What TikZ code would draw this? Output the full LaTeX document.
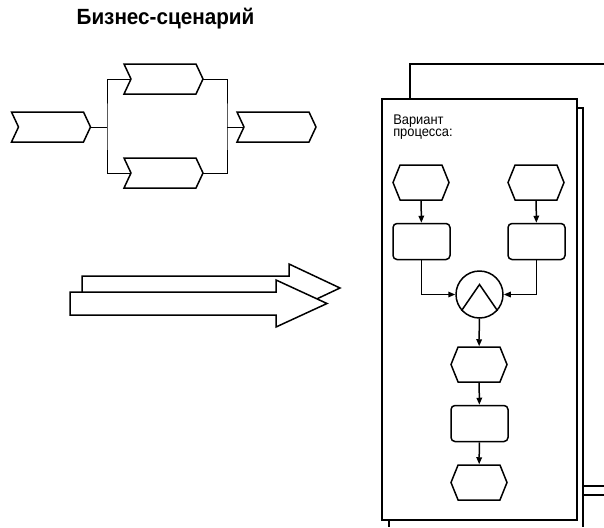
\documentclass[tikz,border=0pt]{standalone}
\usepackage{fontspec}
\setmainfont{Liberation Sans}
\newfontfamily\narrowfont[FakeStretch=0.92]{Liberation Sans}
\newfontfamily\titlefont[FakeStretch=0.94]{Liberation Sans}
\usepackage{tikz}
\usetikzlibrary{shapes.symbols, shapes.geometric, arrows.meta, positioning, calc, backgrounds}

\begin{document}
\begin{tikzpicture}[x=1pt, y=-1pt, line width=1.5pt, >={Stealth[length=7pt, width=5.5pt, inset=0pt]}]
  \tikzstyle{chevron} = [signal, draw, fill=white, signal from=west, signal to=east, signal pointer angle=130, minimum width=79pt, minimum height=30pt, inner sep=0pt]
  \tikzstyle{event} = [signal, draw, fill=white, signal to=west and east, signal pointer angle=136, minimum width=56pt, minimum height=35pt, inner sep=0pt]
  \tikzstyle{func} = [rectangle, draw, fill=white, rounded corners=4pt, minimum width=57pt, minimum height=36pt, inner sep=0pt]
  \tikzstyle{connector} = [circle, draw, fill=white, minimum size=47pt, inner sep=0pt]

  \useasboundingbox (0,0) rectangle (604,527);

  % Title
  \node [font=\titlefont\fontsize{22}{24}\selectfont\bfseries] (title) at (165.5,19) {Бизнес-сценарий};

  % Business scenario: input, two parallel steps, output
  \node [chevron] (input) at (51,127) {};
  \node [chevron] (upper) at (163.5,79) {};
  \node [chevron] (lower) at (163.5,173) {};
  \node [chevron] (output) at (276.5,127) {};
  \coordinate (split) at (107,127);
  \coordinate (join) at (227,127);

  \begin{scope}[on background layer, line width=1.5pt]
    \draw (input.center) -- (split);
    \draw (upper.center) -| (split) |- (lower.center);
    \draw (upper.center) -| (join) |- (lower.center);
    \draw (join) -- (output.center);
  \end{scope}

  % Double arrow
  \draw [fill=white] (82,276) -- (289,276) -- (289,264) -- (340,288) -- (289,312) -- (289,300) -- (82,300) -- cycle;
  \draw [fill=white] (70,292) -- (276,292) -- (276,280) -- (327,303.5) -- (276,327) -- (276,315) -- (70,315) -- cycle;

  % Stacked pages
  \draw (604,64) -- (410,64) -- (410,99);
  \draw (577,108) -- (583,108) -- (583,527);
  \draw (583,486) -- (604,486);
  \draw (583,495) -- (604,495);
  \draw (389,520) -- (389,527);
  \draw [fill=white] (382,99) rectangle (577,520);
  \node [anchor=north west, align=left, inner sep=0pt, font=\narrowfont\fontsize{14}{12.5}\selectfont] (variant) at (392.5,114) {Вариант\\процесса:};

  % Process variant
  \node [event] (ev1) at (421,182.5) {};
  \node [event] (ev2) at (536,182.5) {};
  \node [func] (fn1) at (421.5,241.5) {};
  \node [func] (fn2) at (536.5,241.5) {};
  \node [connector] (andop) at (479.5,294.5) {};
  \node [event] (ev3) at (479,364.5) {};
  \node [func] (fn3) at (479.5,423.5) {};
  \node [event] (ev4) at (479,482.5) {};
  \draw (andop.222) -- ($(andop.center)+(0,-10)$) -- (andop.318);

  \draw [->] (ev1) -- (fn1);
  \draw [->] (ev2) -- (fn2);
  \draw [->] (fn1.south) |- (andop.west);
  \draw [->] (fn2.south) |- (andop.east);
  \draw [->] (andop) -- (ev3);
  \draw [->] (ev3) -- (fn3);
  \draw [->] (fn3) -- (ev4);
\end{tikzpicture}
\end{document}
